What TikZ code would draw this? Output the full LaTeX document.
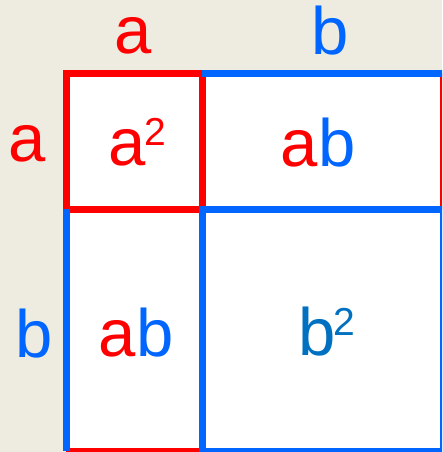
\documentclass[tikz,border=0pt]{standalone}
\usepackage{fontspec}
\setmainfont{Liberation Sans}
\usepackage{xcolor}
\definecolor{sqred}{HTML}{FF0000}
\definecolor{sqblue}{HTML}{0066FF}
\definecolor{sqdark}{HTML}{0070C0}
\definecolor{sqback}{HTML}{EEEBE0}
\usetikzlibrary{calc}

\begin{document}
\begin{tikzpicture}[x=1pt, y=-1pt,
            ra/.style={draw=sqred, line width=7pt},
            rb/.style={draw=sqblue, line width=7pt},
            lbl/.style={anchor=base, inner sep=0pt,
                        font=\fontsize{67}{67}\selectfont},
            sup/.style={anchor=base, inner sep=0pt,
                        font=\fontsize{39}{39}\selectfont}]
        \fill[sqback] (0,0) rectangle (442,452);
        \useasboundingbox (0,0) rectangle (442,452);
        \clip (0,0) rectangle (442,452);
        % corners of the grid: column, row
        \coordinate (c00) at (66,73);
        \coordinate (c10) at (202,73);
        \coordinate (c20) at (443,73);
        \coordinate (c01) at (66,209);
        \coordinate (c11) at (202,209);
        \coordinate (c21) at (443,209);
        \coordinate (c02) at (66,451);
        \coordinate (c12) at (202,451);
        \coordinate (c22) at (443,451);
        \fill[white] (c00) rectangle (c22);
        % sides of length a
        \draw[ra] (c00) rectangle (c11);
        \draw[ra] (c20)--(c21) (c02)--(c12);
        % sides of length b
        \draw[rb] (c10)--(c20) (c01)--(c02);
        \draw[rb] (c11) rectangle (c22);
        % labels
        \node[lbl, text=sqred]  (ta) at (133,54)  {a};
        \node[lbl, text=sqblue] (tb) at (330,55)  {b};
        \node[lbl, text=sqred]  (la) at (27.5,161) {a};
        \node[lbl, text=sqblue] (lb) at (34,357)  {b};
        \node[lbl, text=sqred]  (aa) at (127,165) {a};
        \node[sup, text=sqred]  (aa2) at (155,145) {2};
        \node[lbl] (ab1) at (318,166.5) {\textcolor{sqred}{a}\textcolor{sqblue}{b}};
        \node[lbl] (ab2) at (136,356.5) {\textcolor{sqred}{a}\textcolor{sqblue}{b}};
        \node[lbl, text=sqdark] (bb) at (317,355.5) {b};
        \node[sup, text=sqdark] (bb2) at (344.5,335) {2};
      \end{tikzpicture}
\end{document}
